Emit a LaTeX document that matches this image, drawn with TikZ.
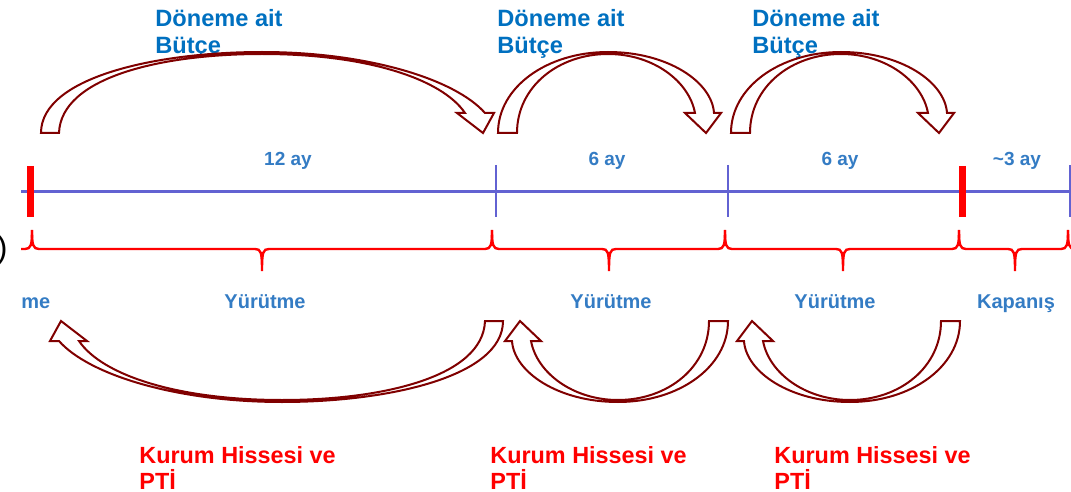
\documentclass[tikz,border=0pt]{standalone}
\usepackage{fontspec}
\setmainfont{Liberation Sans}
\usepackage{tikz}
\usetikzlibrary{calc}

\definecolor{arrowred}{RGB}{128,0,0}
\definecolor{lineblue}{RGB}{98,98,210}
\definecolor{titleblue}{RGB}{0,112,192}
\definecolor{phaseblue}{RGB}{52,124,196}
\definecolor{sharered}{RGB}{255,0,0}

% brace under one period: left end, middle, right end
\newcommand{\segbrace}[3]{%
  \draw[bracered] (#1,230) .. controls (#1,245) and (#1+1,249) .. (#1+7,249)
    -- (#2-7,249) .. controls (#2-1,249) and (#2,252) .. (#2,271)
    .. controls (#2,252) and (#2+1,249) .. (#2+7,249)
    -- (#3-7,249) .. controls (#3-1,249) and (#3,245) .. (#3,230);}

\tikzset{
  blockarrow/.style={draw=arrowred, fill=white, line width=1pt, line join=miter},
  bracered/.style={draw=sharered, line width=1.2pt},
  budget/.style={text=titleblue, font=\fontsize{11.8}{13.5}\selectfont\bfseries,
    align=left, inner sep=0pt, anchor=base west},
  share/.style={text=sharered, font=\fontsize{11.7}{13}\selectfont\bfseries,
    align=left, inner sep=0pt, anchor=base west},
  span/.style={text=phaseblue, font=\fontsize{9.5}{11}\selectfont\bfseries,
    inner sep=0pt, anchor=base},
  phase/.style={text=phaseblue, font=\fontsize{10}{12}\selectfont\bfseries,
    inner sep=0pt, anchor=base},
  pics/longarc/.style={code={
    \draw[blockarrow] (-231,-94) .. controls (-231,-150) and (-115,-175) .. (-10,-175)
      .. controls (95,-175) and (183,-148) .. (213,-114) -- (222,-114) -- (211,-94)
      -- (185,-114) -- (193,-114) .. controls (170,-148) and (95,-173) .. (-10,-173)
      .. controls (-110,-173) and (-211,-150) .. (-213,-94) -- cycle;
  }},
  pics/shortarc/.style={code={
    \draw[blockarrow] (-115,-94) .. controls (-115,-140) and (-66,-175) .. (-5,-175)
      .. controls (55,-175) and (99,-145) .. (101,-114) -- (108,-114) -- (93,-94)
      -- (72,-114) -- (82,-114) .. controls (76,-146) and (40,-173) .. (-5,-173)
      .. controls (-55,-173) and (-96,-140) .. (-96,-94) -- cycle;
  }}
}

\begin{document}
\begin{tikzpicture}[x=0.5pt, y=-0.5pt]
  \useasboundingbox (0,0) rectangle (1071,492);

  % time axis
  \draw[lineblue, line width=1.5pt] (21,191) -- (1071,191);
  \draw[lineblue, line width=1pt] (496,165) -- (496,217);
  \draw[lineblue, line width=1pt] (728,165) -- (728,217);
  \draw[lineblue, line width=1pt] (1070,165) -- (1070,217);
  \draw[sharered, line width=3.5pt] (30,166) -- (30,217);
  \draw[sharered, line width=3.5pt] (962,166) -- (962,217);

  % periods
  \draw[bracered] (21,249) -- (25,249) .. controls (31,249) and (32,245) .. (32,230);
  \segbrace{32}{262}{492}
  \segbrace{492}{609}{725}
  \segbrace{725}{843}{959}
  \segbrace{959}{1015}{1068}
  \draw[bracered] (1068,230) .. controls (1068,245) and (1069,249) .. (1075,249);

  \node[anchor=east, inner sep=0pt, font=\fontsize{16}{16}\selectfont] (paren) at (8,250) {)};

  \node[span] (ay1) at (288,166) {12 ay};
  \node[span] (ay2) at (607,166) {6 ay};
  \node[span] (ay3) at (840,166) {6 ay};
  \node[span] (ay4) at (1017,166) {\textasciitilde3 ay};

  \node[phase, anchor=base west] (ph0) at (21,308) {me};
  \node[phase] (ph1) at (265,308) {Yürütme};
  \node[phase] (ph2) at (611,308) {Yürütme};
  \node[phase] (ph3) at (835,308) {Yürütme};
  \node[phase] (ph4) at (1016,308) {Kapanış};

  \node[budget] (bud1) at (155,54) {Döneme ait\\Bütçe};
  \node[budget] (bud2) at (497,54) {Döneme ait\\Bütçe};
  \node[budget] (bud3) at (752,54) {Döneme ait\\Bütçe};

  \node[share] (sh1) at (139,489) {Kurum Hissesi ve\\PTİ};
  \node[share] (sh2) at (490,489) {Kurum Hissesi ve\\PTİ};
  \node[share] (sh3) at (774,489) {Kurum Hissesi ve\\PTİ};

  % budget arrows and share arrows
  \pic at (272,227) {longarc};
  \pic at (613,227) {shortarc};
  \pic at (846,227) {shortarc};
  \pic[rotate=180] at (272,227) {longarc};
  \pic[rotate=180] at (613,227) {shortarc};
  \pic[rotate=180] at (845,227) {shortarc};
\end{tikzpicture}
\end{document}
